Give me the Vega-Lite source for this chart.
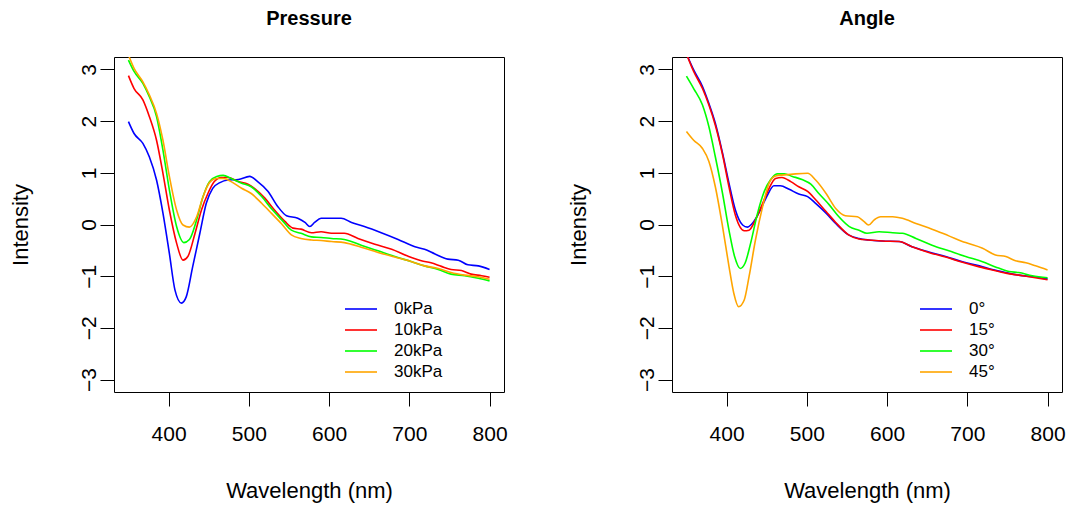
{
  "$schema": "https://vega.github.io/schema/vega-lite/v6.json",
  "padding": {"left": 8, "top": 8, "right": 2, "bottom": 2},
  "background": "white",
  "datasets": {
    "pressure": [
      {"series":"0kPa","wavelength":350,"intensity":1.99},{"series":"0kPa","wavelength":357,"intensity":1.76},{"series":"0kPa","wavelength":368,"intensity":1.57},{"series":"0kPa","wavelength":376,"intensity":1.31},{"series":"0kPa","wavelength":385,"intensity":0.86},{"series":"0kPa","wavelength":393,"intensity":0.22},{"series":"0kPa","wavelength":401,"intensity":-0.56},{"series":"0kPa","wavelength":408,"intensity":-1.27},{"series":"0kPa","wavelength":416,"intensity":-1.52},{"series":"0kPa","wavelength":422,"intensity":-1.40},{"series":"0kPa","wavelength":430,"intensity":-0.82},{"series":"0kPa","wavelength":439,"intensity":-0.17},{"series":"0kPa","wavelength":447,"intensity":0.41},{"series":"0kPa","wavelength":455,"intensity":0.70},{"series":"0kPa","wavelength":464,"intensity":0.81},{"series":"0kPa","wavelength":474,"intensity":0.86},{"series":"0kPa","wavelength":487,"intensity":0.87},{"series":"0kPa","wavelength":501,"intensity":0.93},{"series":"0kPa","wavelength":511,"intensity":0.83},{"series":"0kPa","wavelength":524,"intensity":0.64},{"series":"0kPa","wavelength":536,"intensity":0.35},{"series":"0kPa","wavelength":547,"intensity":0.17},{"series":"0kPa","wavelength":561,"intensity":0.12},{"series":"0kPa","wavelength":570,"intensity":0.04},{"series":"0kPa","wavelength":576,"intensity":-0.04},{"series":"0kPa","wavelength":582,"intensity":0.04},{"series":"0kPa","wavelength":590,"intensity":0.12},{"series":"0kPa","wavelength":603,"intensity":0.12},{"series":"0kPa","wavelength":615,"intensity":0.12},{"series":"0kPa","wavelength":628,"intensity":0.04},{"series":"0kPa","wavelength":644,"intensity":-0.04},{"series":"0kPa","wavelength":665,"intensity":-0.16},{"series":"0kPa","wavelength":686,"intensity":-0.29},{"series":"0kPa","wavelength":707,"intensity":-0.43},{"series":"0kPa","wavelength":719,"intensity":-0.48},{"series":"0kPa","wavelength":732,"intensity":-0.57},{"series":"0kPa","wavelength":748,"intensity":-0.67},{"series":"0kPa","wavelength":761,"intensity":-0.69},{"series":"0kPa","wavelength":773,"intensity":-0.78},{"series":"0kPa","wavelength":786,"intensity":-0.80},{"series":"0kPa","wavelength":800,"intensity":-0.87},
      {"series":"10kPa","wavelength":350,"intensity":2.88},{"series":"10kPa","wavelength":357,"intensity":2.63},{"series":"10kPa","wavelength":368,"intensity":2.41},{"series":"10kPa","wavelength":376,"intensity":2.09},{"series":"10kPa","wavelength":385,"intensity":1.63},{"series":"10kPa","wavelength":393,"intensity":0.99},{"series":"10kPa","wavelength":401,"intensity":0.28},{"series":"10kPa","wavelength":410,"intensity":-0.36},{"series":"10kPa","wavelength":418,"intensity":-0.69},{"series":"10kPa","wavelength":424,"intensity":-0.62},{"series":"10kPa","wavelength":433,"intensity":-0.17},{"series":"10kPa","wavelength":441,"intensity":0.28},{"series":"10kPa","wavelength":449,"intensity":0.60},{"series":"10kPa","wavelength":457,"intensity":0.83},{"series":"10kPa","wavelength":466,"intensity":0.91},{"series":"10kPa","wavelength":474,"intensity":0.91},{"series":"10kPa","wavelength":487,"intensity":0.83},{"series":"10kPa","wavelength":499,"intensity":0.78},{"series":"10kPa","wavelength":507,"intensity":0.70},{"series":"10kPa","wavelength":520,"intensity":0.51},{"series":"10kPa","wavelength":532,"intensity":0.28},{"series":"10kPa","wavelength":545,"intensity":0.06},{"series":"10kPa","wavelength":555,"intensity":-0.07},{"series":"10kPa","wavelength":565,"intensity":-0.09},{"series":"10kPa","wavelength":578,"intensity":-0.16},{"series":"10kPa","wavelength":590,"intensity":-0.14},{"series":"10kPa","wavelength":603,"intensity":-0.17},{"series":"10kPa","wavelength":619,"intensity":-0.17},{"series":"10kPa","wavelength":636,"intensity":-0.27},{"series":"10kPa","wavelength":657,"intensity":-0.38},{"series":"10kPa","wavelength":678,"intensity":-0.48},{"series":"10kPa","wavelength":698,"intensity":-0.61},{"series":"10kPa","wavelength":715,"intensity":-0.70},{"series":"10kPa","wavelength":727,"intensity":-0.74},{"series":"10kPa","wavelength":740,"intensity":-0.81},{"series":"10kPa","wavelength":752,"intensity":-0.87},{"series":"10kPa","wavelength":765,"intensity":-0.89},{"series":"10kPa","wavelength":777,"intensity":-0.96},{"series":"10kPa","wavelength":790,"intensity":-0.99},{"series":"10kPa","wavelength":800,"intensity":-1.02},
      {"series":"20kPa","wavelength":350,"intensity":3.18},{"series":"20kPa","wavelength":357,"intensity":2.96},{"series":"20kPa","wavelength":368,"intensity":2.73},{"series":"20kPa","wavelength":376,"intensity":2.47},{"series":"20kPa","wavelength":385,"intensity":2.09},{"series":"20kPa","wavelength":393,"intensity":1.44},{"series":"20kPa","wavelength":401,"intensity":0.67},{"series":"20kPa","wavelength":410,"intensity":-0.04},{"series":"20kPa","wavelength":419,"intensity":-0.35},{"series":"20kPa","wavelength":426,"intensity":-0.29},{"series":"20kPa","wavelength":435,"intensity":0.09},{"series":"20kPa","wavelength":443,"intensity":0.54},{"series":"20kPa","wavelength":451,"intensity":0.83},{"series":"20kPa","wavelength":460,"intensity":0.93},{"series":"20kPa","wavelength":468,"intensity":0.95},{"series":"20kPa","wavelength":478,"intensity":0.89},{"series":"20kPa","wavelength":491,"intensity":0.80},{"series":"20kPa","wavelength":503,"intensity":0.73},{"series":"20kPa","wavelength":516,"intensity":0.54},{"series":"20kPa","wavelength":528,"intensity":0.31},{"series":"20kPa","wavelength":541,"intensity":0.09},{"series":"20kPa","wavelength":553,"intensity":-0.11},{"series":"20kPa","wavelength":565,"intensity":-0.17},{"series":"20kPa","wavelength":578,"intensity":-0.24},{"series":"20kPa","wavelength":590,"intensity":-0.25},{"series":"20kPa","wavelength":603,"intensity":-0.27},{"series":"20kPa","wavelength":619,"intensity":-0.29},{"series":"20kPa","wavelength":640,"intensity":-0.40},{"series":"20kPa","wavelength":661,"intensity":-0.51},{"series":"20kPa","wavelength":682,"intensity":-0.62},{"series":"20kPa","wavelength":703,"intensity":-0.72},{"series":"20kPa","wavelength":719,"intensity":-0.80},{"series":"20kPa","wavelength":736,"intensity":-0.87},{"series":"20kPa","wavelength":752,"intensity":-0.96},{"series":"20kPa","wavelength":769,"intensity":-0.99},{"series":"20kPa","wavelength":786,"intensity":-1.04},{"series":"20kPa","wavelength":800,"intensity":-1.09},
      {"series":"30kPa","wavelength":350,"intensity":3.28},{"series":"30kPa","wavelength":357,"intensity":3.02},{"series":"30kPa","wavelength":368,"intensity":2.76},{"series":"30kPa","wavelength":376,"intensity":2.51},{"series":"30kPa","wavelength":385,"intensity":2.15},{"series":"30kPa","wavelength":393,"intensity":1.63},{"series":"30kPa","wavelength":401,"intensity":0.93},{"series":"30kPa","wavelength":410,"intensity":0.28},{"series":"30kPa","wavelength":418,"intensity":-0.01},{"series":"30kPa","wavelength":426,"intensity":-0.05},{"series":"30kPa","wavelength":435,"intensity":0.15},{"series":"30kPa","wavelength":443,"intensity":0.54},{"series":"30kPa","wavelength":451,"intensity":0.81},{"series":"30kPa","wavelength":460,"intensity":0.89},{"series":"30kPa","wavelength":468,"intensity":0.89},{"series":"30kPa","wavelength":478,"intensity":0.83},{"series":"30kPa","wavelength":491,"intensity":0.70},{"series":"30kPa","wavelength":503,"intensity":0.60},{"series":"30kPa","wavelength":516,"intensity":0.41},{"series":"30kPa","wavelength":528,"intensity":0.22},{"series":"30kPa","wavelength":541,"intensity":0.01},{"series":"30kPa","wavelength":553,"intensity":-0.20},{"series":"30kPa","wavelength":565,"intensity":-0.27},{"series":"30kPa","wavelength":578,"intensity":-0.30},{"series":"30kPa","wavelength":590,"intensity":-0.31},{"series":"30kPa","wavelength":603,"intensity":-0.33},{"series":"30kPa","wavelength":619,"intensity":-0.35},{"series":"30kPa","wavelength":640,"intensity":-0.44},{"series":"30kPa","wavelength":661,"intensity":-0.54},{"series":"30kPa","wavelength":682,"intensity":-0.63},{"series":"30kPa","wavelength":703,"intensity":-0.72},{"series":"30kPa","wavelength":719,"intensity":-0.80},{"series":"30kPa","wavelength":736,"intensity":-0.85},{"series":"30kPa","wavelength":752,"intensity":-0.93},{"series":"30kPa","wavelength":769,"intensity":-0.98},{"series":"30kPa","wavelength":786,"intensity":-1.01},{"series":"30kPa","wavelength":800,"intensity":-1.06}
    ],
    "angle": [
      {"series":"0°","wavelength":350,"intensity":3.30},{"series":"0°","wavelength":359,"intensity":2.99},{"series":"0°","wavelength":370,"intensity":2.67},{"series":"0°","wavelength":378,"intensity":2.34},{"series":"0°","wavelength":386,"intensity":1.96},{"series":"0°","wavelength":395,"intensity":1.38},{"series":"0°","wavelength":403,"intensity":0.80},{"series":"0°","wavelength":411,"intensity":0.28},{"series":"0°","wavelength":420,"intensity":-0.01},{"series":"0°","wavelength":426,"intensity":-0.05},{"series":"0°","wavelength":434,"intensity":0.06},{"series":"0°","wavelength":443,"intensity":0.31},{"series":"0°","wavelength":451,"intensity":0.57},{"series":"0°","wavelength":459,"intensity":0.75},{"series":"0°","wavelength":467,"intensity":0.75},{"series":"0°","wavelength":478,"intensity":0.68},{"series":"0°","wavelength":490,"intensity":0.59},{"series":"0°","wavelength":501,"intensity":0.54},{"series":"0°","wavelength":511,"intensity":0.41},{"series":"0°","wavelength":524,"intensity":0.22},{"series":"0°","wavelength":536,"intensity":0.02},{"series":"0°","wavelength":552,"intensity":-0.20},{"series":"0°","wavelength":565,"intensity":-0.27},{"series":"0°","wavelength":577,"intensity":-0.30},{"series":"0°","wavelength":594,"intensity":-0.32},{"series":"0°","wavelength":615,"intensity":-0.33},{"series":"0°","wavelength":631,"intensity":-0.43},{"series":"0°","wavelength":652,"intensity":-0.53},{"series":"0°","wavelength":673,"intensity":-0.62},{"series":"0°","wavelength":694,"intensity":-0.72},{"series":"0°","wavelength":715,"intensity":-0.80},{"series":"0°","wavelength":731,"intensity":-0.87},{"series":"0°","wavelength":748,"intensity":-0.93},{"series":"0°","wavelength":764,"intensity":-0.98},{"series":"0°","wavelength":781,"intensity":-1.01},{"series":"0°","wavelength":800,"intensity":-1.05},
      {"series":"15°","wavelength":350,"intensity":3.30},{"series":"15°","wavelength":359,"intensity":2.96},{"series":"15°","wavelength":370,"intensity":2.63},{"series":"15°","wavelength":378,"intensity":2.31},{"series":"15°","wavelength":386,"intensity":1.92},{"series":"15°","wavelength":395,"intensity":1.35},{"series":"15°","wavelength":403,"intensity":0.73},{"series":"15°","wavelength":411,"intensity":0.18},{"series":"15°","wavelength":422,"intensity":-0.12},{"series":"15°","wavelength":428,"intensity":-0.11},{"series":"15°","wavelength":436,"intensity":0.09},{"series":"15°","wavelength":445,"intensity":0.41},{"series":"15°","wavelength":453,"intensity":0.70},{"series":"15°","wavelength":461,"intensity":0.89},{"series":"15°","wavelength":469,"intensity":0.91},{"series":"15°","wavelength":480,"intensity":0.83},{"series":"15°","wavelength":490,"intensity":0.73},{"series":"15°","wavelength":501,"intensity":0.64},{"series":"15°","wavelength":511,"intensity":0.48},{"series":"15°","wavelength":524,"intensity":0.25},{"series":"15°","wavelength":536,"intensity":0.04},{"series":"15°","wavelength":552,"intensity":-0.20},{"series":"15°","wavelength":565,"intensity":-0.28},{"series":"15°","wavelength":577,"intensity":-0.30},{"series":"15°","wavelength":594,"intensity":-0.32},{"series":"15°","wavelength":615,"intensity":-0.33},{"series":"15°","wavelength":631,"intensity":-0.43},{"series":"15°","wavelength":652,"intensity":-0.54},{"series":"15°","wavelength":673,"intensity":-0.63},{"series":"15°","wavelength":694,"intensity":-0.73},{"series":"15°","wavelength":715,"intensity":-0.82},{"series":"15°","wavelength":731,"intensity":-0.88},{"series":"15°","wavelength":748,"intensity":-0.94},{"series":"15°","wavelength":764,"intensity":-0.98},{"series":"15°","wavelength":781,"intensity":-1.02},{"series":"15°","wavelength":800,"intensity":-1.07},
      {"series":"30°","wavelength":350,"intensity":2.87},{"series":"30°","wavelength":359,"intensity":2.63},{"series":"30°","wavelength":370,"intensity":2.31},{"series":"30°","wavelength":378,"intensity":1.89},{"series":"30°","wavelength":386,"intensity":1.31},{"series":"30°","wavelength":395,"intensity":0.60},{"series":"30°","wavelength":403,"intensity":-0.11},{"series":"30°","wavelength":410,"intensity":-0.62},{"series":"30°","wavelength":417,"intensity":-0.85},{"series":"30°","wavelength":423,"intensity":-0.75},{"series":"30°","wavelength":430,"intensity":-0.36},{"series":"30°","wavelength":438,"intensity":0.18},{"series":"30°","wavelength":447,"intensity":0.64},{"series":"30°","wavelength":455,"intensity":0.87},{"series":"30°","wavelength":463,"intensity":0.98},{"series":"30°","wavelength":472,"intensity":0.98},{"series":"30°","wavelength":482,"intensity":0.93},{"series":"30°","wavelength":494,"intensity":0.87},{"series":"30°","wavelength":505,"intensity":0.78},{"series":"30°","wavelength":515,"intensity":0.60},{"series":"30°","wavelength":528,"intensity":0.38},{"series":"30°","wavelength":540,"intensity":0.15},{"series":"30°","wavelength":553,"intensity":-0.04},{"series":"30°","wavelength":565,"intensity":-0.11},{"series":"30°","wavelength":575,"intensity":-0.17},{"series":"30°","wavelength":590,"intensity":-0.14},{"series":"30°","wavelength":607,"intensity":-0.16},{"series":"30°","wavelength":619,"intensity":-0.17},{"series":"30°","wavelength":636,"intensity":-0.27},{"series":"30°","wavelength":656,"intensity":-0.40},{"series":"30°","wavelength":677,"intensity":-0.51},{"series":"30°","wavelength":698,"intensity":-0.62},{"series":"30°","wavelength":719,"intensity":-0.72},{"series":"30°","wavelength":735,"intensity":-0.82},{"series":"30°","wavelength":752,"intensity":-0.91},{"series":"30°","wavelength":764,"intensity":-0.93},{"series":"30°","wavelength":781,"intensity":-0.99},{"series":"30°","wavelength":800,"intensity":-1.03},
      {"series":"45°","wavelength":350,"intensity":1.80},{"series":"45°","wavelength":359,"intensity":1.63},{"series":"45°","wavelength":370,"intensity":1.47},{"series":"45°","wavelength":378,"intensity":1.22},{"series":"45°","wavelength":386,"intensity":0.73},{"series":"45°","wavelength":395,"intensity":-0.04},{"series":"45°","wavelength":403,"intensity":-0.81},{"series":"45°","wavelength":409,"intensity":-1.33},{"series":"45°","wavelength":415,"intensity":-1.59},{"series":"45°","wavelength":422,"intensity":-1.46},{"series":"45°","wavelength":428,"intensity":-1.01},{"series":"45°","wavelength":436,"intensity":-0.30},{"series":"45°","wavelength":445,"intensity":0.35},{"series":"45°","wavelength":453,"intensity":0.80},{"series":"45°","wavelength":461,"intensity":0.94},{"series":"45°","wavelength":472,"intensity":0.96},{"series":"45°","wavelength":486,"intensity":0.98},{"series":"45°","wavelength":501,"intensity":0.99},{"series":"45°","wavelength":511,"intensity":0.86},{"series":"45°","wavelength":524,"intensity":0.60},{"series":"45°","wavelength":536,"intensity":0.31},{"series":"45°","wavelength":548,"intensity":0.17},{"series":"45°","wavelength":563,"intensity":0.15},{"series":"45°","wavelength":571,"intensity":0.06},{"series":"45°","wavelength":577,"intensity":-0.01},{"series":"45°","wavelength":584,"intensity":0.09},{"series":"45°","wavelength":592,"intensity":0.15},{"series":"45°","wavelength":607,"intensity":0.15},{"series":"45°","wavelength":619,"intensity":0.12},{"series":"45°","wavelength":636,"intensity":0.02},{"series":"45°","wavelength":656,"intensity":-0.09},{"series":"45°","wavelength":677,"intensity":-0.22},{"series":"45°","wavelength":698,"intensity":-0.35},{"series":"45°","wavelength":719,"intensity":-0.46},{"series":"45°","wavelength":735,"intensity":-0.59},{"series":"45°","wavelength":748,"intensity":-0.62},{"series":"45°","wavelength":760,"intensity":-0.70},{"series":"45°","wavelength":773,"intensity":-0.74},{"series":"45°","wavelength":785,"intensity":-0.80},{"series":"45°","wavelength":800,"intensity":-0.88}
    ]
  },
  "spacing": 58,
  "resolve": {"scale": {"color": "independent"}, "legend": {"color": "independent"}},
  "hconcat": [
    {
      "title": {"text": "Pressure"},
      "width": 390,
      "height": 335,
      "data": {"name": "pressure"},
      "mark": {"type": "line", "clip": true, "strokeWidth": 1.6, "interpolate": "monotone"},
      "encoding": {
        "x": {"field": "wavelength", "type": "quantitative", "title": "Wavelength (nm)", "scale": {"domain": [332, 818], "nice": false, "zero": false}, "axis": {"values": [400, 500, 600, 700, 800]}},
        "y": {"field": "intensity", "type": "quantitative", "title": "Intensity", "scale": {"domain": [-3.24, 3.24], "nice": false, "zero": false}, "axis": {"values": [-3, -2, -1, 0, 1, 2, 3]}},
        "color": {"field": "series", "type": "nominal", "sort": ["0kPa", "10kPa", "20kPa", "30kPa"], "scale": {"domain": ["0kPa", "10kPa", "20kPa", "30kPa"], "range": ["#0000FF", "#FF0000", "#00FF00", "#FFA500"]}, "legend": {"orient": "none", "legendX": 238, "legendY": 243, "title": null}}
      }
    },
    {
      "title": {"text": "Angle"},
      "width": 390,
      "height": 335,
      "data": {"name": "angle"},
      "mark": {"type": "line", "clip": true, "strokeWidth": 1.6, "interpolate": "monotone"},
      "encoding": {
        "x": {"field": "wavelength", "type": "quantitative", "title": "Wavelength (nm)", "scale": {"domain": [332, 818], "nice": false, "zero": false}, "axis": {"values": [400, 500, 600, 700, 800]}},
        "y": {"field": "intensity", "type": "quantitative", "title": "Intensity", "scale": {"domain": [-3.24, 3.24], "nice": false, "zero": false}, "axis": {"values": [-3, -2, -1, 0, 1, 2, 3]}},
        "color": {"field": "series", "type": "nominal", "sort": ["0°", "15°", "30°", "45°"], "scale": {"domain": ["0°", "15°", "30°", "45°"], "range": ["#0000FF", "#FF0000", "#00FF00", "#FFA500"]}, "legend": {"orient": "none", "legendX": 255, "legendY": 243, "title": null}}
      }
    }
  ],
  "config": {
    "font": "Liberation Sans",
    "view": {"stroke": "black", "strokeWidth": 1},
    "axis": {"domain": false, "grid": false, "tickColor": "black", "tickSize": 14, "tickWidth": 1, "labelColor": "black", "titleColor": "black", "labelFontSize": 21, "titleFontSize": 22, "titleFontWeight": "normal", "labelFont": "Liberation Sans", "titleFont": "Liberation Sans", "labelFlush": false, "labelOverlap": false},
    "axisX": {"labelPadding": 17, "titlePadding": 36},
    "axisY": {"labelAngle": -90, "labelAlign": "center", "labelBaseline": "bottom", "labelPadding": 1, "titlePadding": 46},
    "title": {"fontSize": 20, "fontWeight": "bold", "color": "black", "font": "Liberation Sans", "anchor": "middle", "offset": 28},
    "legend": {"symbolType": "M-2,0H2", "symbolSize": 256, "symbolStrokeWidth": 1.6, "labelFontSize": 17, "labelColor": "black", "labelFont": "Liberation Sans", "labelOffset": 24, "rowPadding": 4, "padding": 0}
  }
}
